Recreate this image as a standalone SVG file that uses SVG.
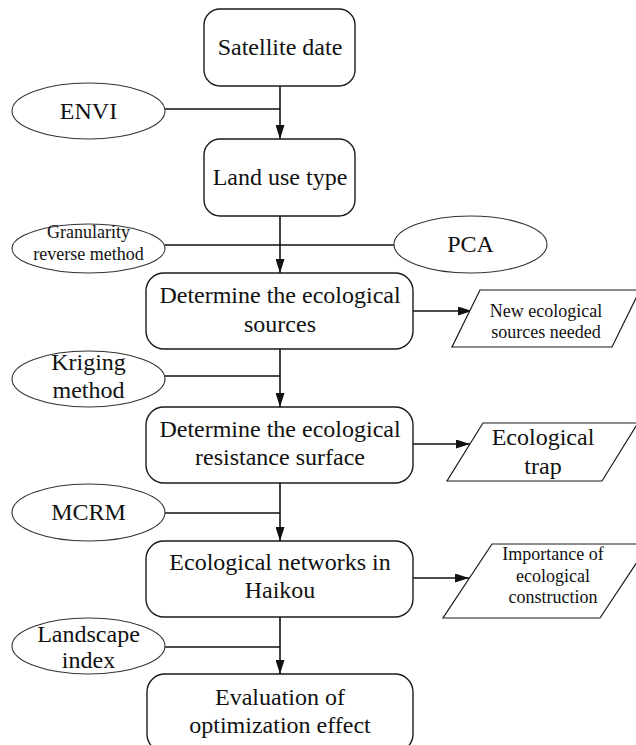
<svg xmlns="http://www.w3.org/2000/svg" width="636" height="745" viewBox="0 0 636 745">
<defs>
<style>
.box{fill:#fff;stroke:#1a1a1a;stroke-width:1.4}
.ell{fill:#fff;stroke:#333;stroke-width:1.1}
.par{fill:#fff;stroke:#1a1a1a;stroke-width:1.2}
.ln{fill:none;stroke:#111;stroke-width:1.6}
text{font-family:"Liberation Serif","Times New Roman",serif;fill:#111;text-anchor:middle}
.t24{font-size:24px}
.t18{font-size:18px}
</style>
<marker id="arr" markerUnits="userSpaceOnUse" markerWidth="14" markerHeight="9" refX="14" refY="4.5" orient="auto">
<path d="M0,0 L14,4.5 L0,9 z" fill="#111"/>
</marker>
</defs>
<rect width="636" height="745" fill="#fff"/>
<g id="connectors">
<line class="ln" x1="280" y1="86" x2="280" y2="139" marker-end="url(#arr)"/>
<line class="ln" x1="165" y1="109" x2="280" y2="109"/>
<line class="ln" x1="280" y1="216" x2="280" y2="273" marker-end="url(#arr)"/>
<line class="ln" x1="165" y1="245" x2="394" y2="245"/>
<line class="ln" x1="280" y1="349" x2="280" y2="407" marker-end="url(#arr)"/>
<line class="ln" x1="165" y1="376" x2="280" y2="376"/>
<line class="ln" x1="280" y1="483" x2="280" y2="541" marker-end="url(#arr)"/>
<line class="ln" x1="165" y1="513" x2="280" y2="513"/>
<line class="ln" x1="280" y1="617" x2="280" y2="674" marker-end="url(#arr)"/>
<line class="ln" x1="165" y1="647" x2="280" y2="647"/>
<line class="ln" x1="413" y1="311" x2="472" y2="311" marker-end="url(#arr)"/>
<line class="ln" x1="413" y1="444" x2="470" y2="444" marker-end="url(#arr)"/>
<line class="ln" x1="413" y1="578" x2="469" y2="578" marker-end="url(#arr)"/>
</g>
<g id="satellite">
<rect class="box" x="204" y="9" width="151" height="77" rx="16"/>
<text class="t24" x="280" y="55">Satellite date</text>
</g>
<g id="envi">
<ellipse class="ell" cx="88.5" cy="111" rx="76.5" ry="28"/>
<text class="t24" x="88.5" y="119">ENVI</text>
</g>
<g id="landuse">
<rect class="box" x="204" y="139" width="151" height="77" rx="16"/>
<text class="t24" x="280" y="185">Land use type</text>
</g>
<g id="granularity">
<ellipse class="ell" cx="88.5" cy="248.5" rx="76.5" ry="24.5"/>
<text class="t18" x="88.5" y="238">Granularity</text>
<text class="t18" x="88.5" y="260">reverse method</text>
</g>
<g id="pca">
<ellipse class="ell" cx="470.5" cy="244.5" rx="76.5" ry="28.5"/>
<text class="t24" x="470.5" y="252">PCA</text>
</g>
<g id="sources">
<rect class="box" x="146" y="273" width="267" height="76" rx="18"/>
<text class="t24" x="280" y="303">Determine the ecological</text>
<text class="t24" x="280" y="332">sources</text>
</g>
<g id="newsources">
<polygon class="par" points="480,290 640,290 612,347 452,347"/>
<text class="t18" x="546" y="317">New ecological</text>
<text class="t18" x="546" y="338">sources needed</text>
</g>
<g id="kriging">
<ellipse class="ell" cx="88.5" cy="379" rx="76.5" ry="28"/>
<text class="t24" x="88.5" y="370">Kriging</text>
<text class="t24" x="88.5" y="398">method</text>
</g>
<g id="resistance">
<rect class="box" x="146" y="407" width="267" height="76" rx="18"/>
<text class="t24" x="280" y="437">Determine the ecological</text>
<text class="t24" x="280" y="465">resistance surface</text>
</g>
<g id="trap">
<polygon class="par" points="483,423 638,423 602,481 447,481"/>
<text class="t24" x="543" y="445">Ecological</text>
<text class="t24" x="543" y="474">trap</text>
</g>
<g id="mcrm">
<ellipse class="ell" cx="88.5" cy="512.5" rx="76.5" ry="28.5"/>
<text class="t24" x="88.5" y="520">MCRM</text>
</g>
<g id="networks">
<rect class="box" x="146" y="541" width="267" height="76" rx="18"/>
<text class="t24" x="280" y="570">Ecological networks in</text>
<text class="t24" x="280" y="598">Haikou</text>
</g>
<g id="importance">
<polygon class="par" points="492,544 649,544 600,618 443,618"/>
<text class="t18" x="553" y="560">Importance of</text>
<text class="t18" x="553" y="582">ecological</text>
<text class="t18" x="553" y="603">construction</text>
</g>
<g id="landscape">
<ellipse class="ell" cx="88.5" cy="646" rx="76.5" ry="28"/>
<text class="t24" x="88.5" y="642">Landscape</text>
<text class="t24" x="88.5" y="668">index</text>
</g>
<g id="evaluation">
<rect class="box" x="147" y="674" width="266" height="78" rx="18"/>
<text class="t24" x="280" y="705">Evaluation of</text>
<text class="t24" x="280" y="733">optimization effect</text>
</g>
</svg>
